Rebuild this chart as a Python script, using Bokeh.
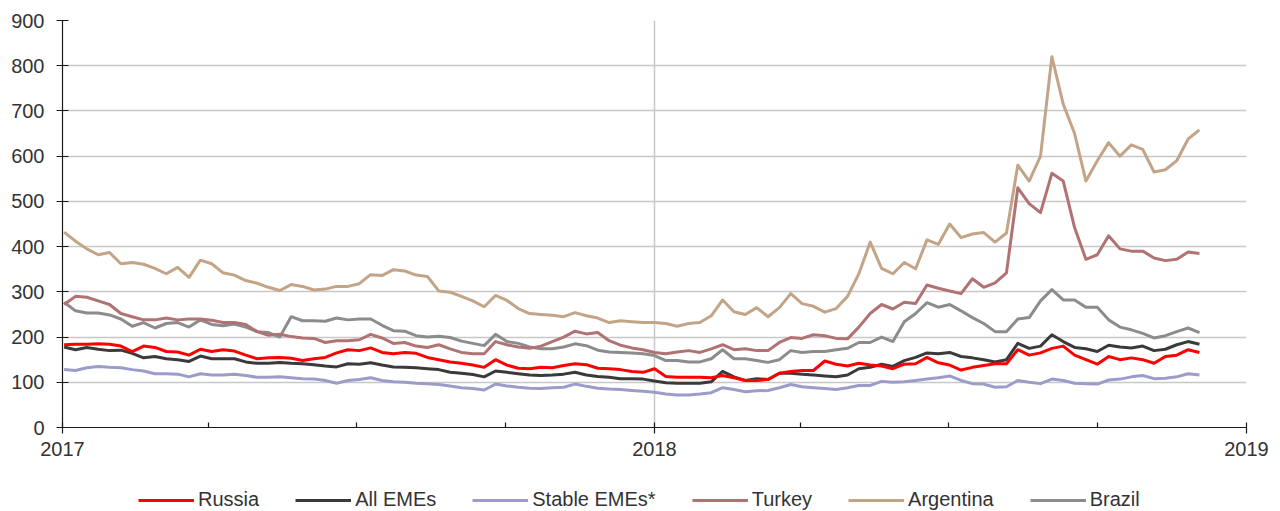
import pandas as pd
from bokeh.plotting import figure
from bokeh.layouts import column
from bokeh.models import (Range1d, FixedTicker, DatetimeTickFormatter, Legend,
                          LegendItem, ColumnDataSource)
from bokeh.embed import file_html
from bokeh.resources import INLINE

# weekly observation dates (x categories)
dates = pd.date_range("2017-01-02", periods=101, freq="7D")

russia = [183, 184, 184, 185, 184, 180, 168, 180, 177, 168,
          167, 160, 173, 168, 172, 169, 160, 152, 154, 155,
          153, 148, 152, 155, 165, 172, 170, 176, 166, 163,
          166, 164, 155, 150, 145, 142, 138, 133, 150, 138,
          131, 130, 133, 132, 137, 141, 139, 131, 130, 128,
          124, 122, 130, 113, 111, 111, 111, 110, 115, 110,
          104, 104, 106, 120, 124, 126, 126, 147, 140, 136,
          142, 138, 136, 130, 140, 141, 155, 143, 138, 127,
          133, 137, 141, 141, 172, 160, 165, 175, 180, 160,
          150, 140, 157, 150, 154, 150, 142, 157, 160, 172,
          166]

all_emes = [178, 172, 177, 173, 170, 171, 164, 154, 157, 152,
            150, 146, 158, 152, 152, 152, 145, 142, 142, 144,
            142, 141, 139, 136, 134, 141, 140, 143, 138, 134,
            133, 132, 130, 128, 122, 120, 117, 112, 125, 122,
            119, 116, 115, 116, 118, 122, 116, 113, 111, 108,
            108, 107, 103, 99, 98, 98, 98, 101, 124, 112,
            104, 108, 106, 120, 120, 118, 116, 114, 112, 116,
            130, 133, 140, 135, 148, 155, 165, 163, 166, 157,
            154, 150, 145, 150, 186, 175, 180, 205, 190, 177,
            174, 168, 182, 178, 176, 180, 170, 173, 183, 190,
            184]

stable_emes = [128, 126, 132, 135, 133, 132, 128, 125, 119, 119,
               118, 112, 119, 116, 116, 118, 115, 111, 111, 112,
               110, 108, 107, 104, 98, 104, 106, 110, 104, 101,
               100, 98, 97, 95, 92, 88, 86, 83, 96, 92,
               89, 87, 86, 88, 89, 96, 91, 87, 85, 84,
               82, 80, 78, 74, 72, 72, 74, 77, 88, 84,
               79, 81, 82, 88, 95, 90, 88, 86, 84, 88,
               93, 93, 102, 100, 101, 104, 107, 110, 114, 104,
               97, 96, 89, 90, 104, 100, 97, 107, 104, 98,
               97, 96, 105, 107, 112, 115, 108, 109, 112, 119,
               116]

turkey = [272, 290, 288, 280, 272, 252, 245, 238, 238, 242,
          238, 240, 240, 237, 232, 232, 228, 212, 204, 206,
          201, 198, 197, 188, 192, 192, 194, 206, 198, 186,
          188, 180, 177, 183, 174, 166, 163, 163, 190, 183,
          178, 175, 180, 190, 200, 213, 207, 210, 192, 182,
          176, 172, 166, 163, 167, 170, 166, 174, 183, 172,
          174, 170, 170, 188, 199, 197, 205, 203, 197, 196,
          222, 252, 272, 262, 277, 274, 315, 308, 302, 296,
          329, 310, 320, 342, 530, 495, 475, 562, 545, 442,
          372, 382, 424, 395, 390, 390, 375, 369, 372, 388,
          385]

argentina = [432, 412, 395, 382, 387, 362, 365, 361, 352, 340,
             354, 332, 370, 362, 342, 337, 325, 319, 310, 303,
             316, 312, 304, 306, 312, 312, 318, 338, 336, 349,
             346, 337, 334, 302, 299, 290, 280, 267, 292, 281,
             263, 252, 250, 248, 245, 254, 247, 242, 232, 236,
             234, 232, 232, 230, 224, 230, 232, 247, 282, 256,
             250, 265, 245, 265, 296, 274, 268, 255, 263, 290,
             340, 410, 352, 340, 365, 351, 415, 405, 450, 420,
             428, 431, 410, 430, 580, 545, 600, 820, 715, 650,
             545, 590, 630, 600, 625, 615, 565, 570, 590, 638,
             658]

brazil = [277, 258, 253, 253, 249, 240, 224, 232, 220, 230,
          232, 222, 238, 228, 225, 229, 222, 212, 210, 200,
          245, 236, 236, 235, 242, 238, 240, 240, 226, 214,
          213, 203, 200, 202, 199, 191, 186, 181, 206, 190,
          186, 178, 174, 174, 178, 185, 181, 171, 167, 166,
          165, 163, 159, 148, 148, 145, 145, 152, 172, 152,
          152, 148, 144, 150, 170, 166, 168, 168, 172, 175,
          188, 188, 200, 190, 234, 252, 276, 266, 272, 258,
          243, 230, 212, 212, 240, 243, 280, 305, 282, 282,
          266, 266, 238, 222, 216, 208, 198, 203, 212, 220,
          210]

series_names = ["Russia", "All EMEs", "Stable EMEs*", "Turkey", "Argentina", "Brazil"]
series_values = [russia, all_emes, stable_emes, turkey, argentina, brazil]
series_colors = ["#FF0000", "#3A3A3A", "#9C9CC9", "#B07272", "#C3A487", "#8C8C8C"]

year_ticks = [pd.Timestamp(f"{y}-01-01").value // 10**6 for y in (2017, 2018, 2019)]
quarter_ticks = [pd.Timestamp(d).value // 10**6 for d in
                 ["2017-04-01", "2017-07-01", "2017-10-01",
                  "2018-04-01", "2018-07-01", "2018-10-01"]]

FONT = "Liberation Sans"

p = figure(width=1280, height=470, x_axis_type="datetime",
           x_range=Range1d(pd.Timestamp("2017-01-01"), pd.Timestamp("2019-01-01")),
           y_range=Range1d(0, 900),
           output_backend="svg", toolbar_location=None,
           min_border_left=62, min_border_right=34, min_border_top=20,
           min_border_bottom=43)
p.outline_line_color = None
p.background_fill_color = "white"

src = ColumnDataSource(dict(date=dates, **{f"s{i}": v for i, v in enumerate(series_values)}))

for i in reversed(range(len(series_names))):
    p.line("date", f"s{i}", source=src, line_color=series_colors[i],
           line_width=3, line_join="round")

xt = FixedTicker(ticks=year_ticks, minor_ticks=quarter_ticks)
p.xaxis.ticker = xt
p.xaxis.formatter = DatetimeTickFormatter(years="%Y", months="%Y", days="%Y",
                                          hours="%Y", minutes="%Y")
p.xgrid.ticker = FixedTicker(ticks=year_ticks)
p.yaxis.ticker = FixedTicker(ticks=list(range(0, 901, 100)))

for g in (p.xgrid, p.ygrid):
    g.grid_line_color = "#C8C8C8"
    g.grid_line_width = 1.5

for ax in (p.xaxis, p.yaxis):
    ax.axis_line_color = "#1a1a1a"
    ax.axis_line_width = 1.2
    ax.major_tick_line_color = "#1a1a1a"
    ax.major_tick_line_width = 1.2
    ax.major_label_text_font = FONT
    ax.major_label_text_font_size = "20px"
    ax.major_label_text_color = "#333333"

p.xaxis.major_tick_in = 5
p.xaxis.major_tick_out = 6
p.xaxis.minor_tick_in = 5
p.xaxis.minor_tick_out = 0
p.xaxis.minor_tick_line_color = "#1a1a1a"
p.xaxis.minor_tick_line_width = 1.2
p.xaxis.major_label_standoff = 8

p.yaxis.major_tick_in = 6
p.yaxis.major_tick_out = 6
p.yaxis.minor_tick_line_color = None
p.yaxis.major_label_standoff = 12

# legend strip beneath the chart: same series, kept out of this strip's view
lg = figure(width=1280, height=41, x_range=Range1d(0, 1), y_range=Range1d(0, 1),
            output_backend="svg", toolbar_location=None,
            x_axis_location=None, y_axis_location=None,
            min_border_left=0, min_border_right=0, min_border_top=0, min_border_bottom=0)
lg.outline_line_color = None
lg.xgrid.visible = False
lg.ygrid.visible = False
keys = []
for i, name in enumerate(series_names):
    r = lg.line("date", f"s{i}", source=src, line_color=series_colors[i], line_width=3)
    keys.append(LegendItem(label=name, renderers=[r]))
legend = Legend(items=keys, orientation="horizontal", location=(76, 0),
                glyph_width=56, glyph_height=20, label_standoff=4, spacing=36,
                padding=2, margin=0,
                label_text_font=FONT, label_text_font_size="20px",
                label_text_color="#333333",
                border_line_color=None, background_fill_alpha=0)
lg.add_layout(legend, "center")

layout = column(p, lg, spacing=0)
open("out.html", "w").write(file_html(layout, INLINE))
